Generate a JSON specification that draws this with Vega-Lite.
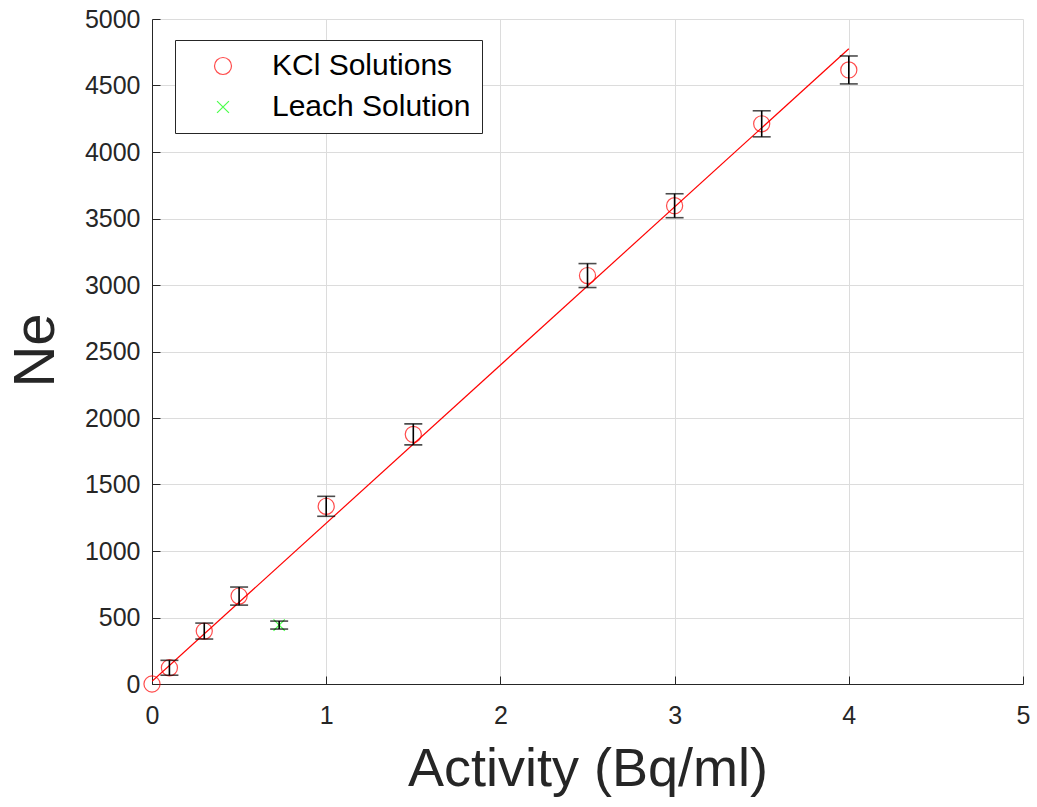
{
  "$schema": "https://vega.github.io/schema/vega-lite/v6.json",
  "autosize": {"type": "none"},
  "width": 871,
  "height": 665,
  "padding": {"left": 152, "top": 19, "right": 14, "bottom": 123},
  "background": "white",
  "config": {
    "font": "Liberation Sans",
    "view": {"stroke": null},
    "axis": {
      "domainColor": "#262626",
      "domainWidth": 1,
      "tickColor": "#262626",
      "tickSize": -8,
      "labelColor": "#262626",
      "labelFontSize": 25,
      "labelFont": "Liberation Sans",
      "labelFlush": false,
      "titleColor": "#262626",
      "titleFont": "Liberation Sans",
      "titleFontWeight": "normal",
      "gridColor": "#dcdcdc",
      "gridWidth": 1
    }
  },
  "datasets": {
    "fit": [
      {"activity": 0, "ne": 20},
      {"activity": 4, "ne": 4776}
    ],
    "measurements": [
      {"series": "KCl Solutions", "activity": 0, "ne": 0},
      {"series": "KCl Solutions", "activity": 0.1, "ne": 122, "lo": 66, "hi": 178},
      {"series": "KCl Solutions", "activity": 0.3, "ne": 398, "lo": 338, "hi": 458},
      {"series": "KCl Solutions", "activity": 0.5, "ne": 661, "lo": 593, "hi": 729},
      {"series": "KCl Solutions", "activity": 1, "ne": 1336, "lo": 1261, "hi": 1411},
      {"series": "KCl Solutions", "activity": 1.5, "ne": 1877, "lo": 1798, "hi": 1956},
      {"series": "KCl Solutions", "activity": 2.5, "ne": 3071, "lo": 2981, "hi": 3161},
      {"series": "KCl Solutions", "activity": 3, "ne": 3596, "lo": 3506, "hi": 3686},
      {"series": "KCl Solutions", "activity": 3.5, "ne": 4212, "lo": 4114, "hi": 4310},
      {"series": "KCl Solutions", "activity": 4, "ne": 4617, "lo": 4512, "hi": 4722},
      {"series": "Leach Solution", "activity": 0.73, "ne": 443, "lo": 413, "hi": 473}
    ]
  },
  "layer": [
    {
      "data": {"name": "fit"},
      "mark": {"type": "line", "color": "#ff0000", "strokeWidth": 1.2, "clip": true},
      "encoding": {
        "x": {
          "field": "activity",
          "type": "quantitative",
          "scale": {"domain": [0, 5], "nice": false},
          "axis": {
            "values": [0, 1, 2, 3, 4, 5],
            "format": "d",
            "grid": true,
            "labelPadding": 27,
            "title": "Activity (Bq/ml)",
            "titleFontSize": 54,
            "titleBaseline": "alphabetic",
            "titleY": 101
          }
        },
        "y": {
          "field": "ne",
          "type": "quantitative",
          "scale": {"domain": [0, 5000], "nice": false},
          "axis": {
            "values": [0, 500, 1000, 1500, 2000, 2500, 3000, 3500, 4000, 4500, 5000],
            "format": "d",
            "grid": true,
            "labelPadding": 20,
            "title": "Ne",
            "titleFontSize": 58,
            "titleAngle": -90,
            "titleAlign": "center",
            "titleBaseline": "middle",
            "titleX": -116,
            "titleY": 331
          }
        }
      }
    },
    {
      "data": {"name": "measurements"},
      "mark": {"type": "point", "filled": false, "size": 260, "strokeWidth": 1.2, "clip": false},
      "encoding": {
        "x": {"field": "activity", "type": "quantitative"},
        "y": {"field": "ne", "type": "quantitative"},
        "stroke": {
          "field": "series",
          "type": "nominal",
          "scale": {"domain": ["KCl Solutions", "Leach Solution"], "range": ["#ff0000", "#00ff00"]},
          "legend": {
            "title": null,
            "orient": "none",
            "legendX": 23,
            "legendY": 21,
            "fillColor": "white",
            "strokeColor": "#262626",
            "padding": 11,
            "rowPadding": 11,
            "labelFontSize": 30,
            "labelLimit": 0,
            "labelExpr": "datum.label + '    '",
            "labelColor": "#000000",
            "labelFont": "Liberation Sans",
            "labelOffset": 34,
            "symbolOffset": 22,
            "symbolSize": 289,
            "symbolStrokeWidth": 1.2,
            "symbolFillColor": "transparent"
          }
        },
        "shape": {
          "field": "series",
          "type": "nominal",
          "scale": {
            "domain": ["KCl Solutions", "Leach Solution"],
            "range": ["circle", "M-0.7,-0.7L0.7,0.7M0.7,-0.7L-0.7,0.7"]
          }
        }
      }
    },
    {
      "data": {"name": "measurements"},
      "transform": [{"filter": {"field": "lo", "valid": true}}],
      "mark": {"type": "rule", "color": "#000000", "strokeWidth": 1.6},
      "encoding": {
        "x": {"field": "activity", "type": "quantitative"},
        "y": {"field": "lo", "type": "quantitative"},
        "y2": {"field": "hi"}
      }
    },
    {
      "data": {"name": "measurements"},
      "transform": [{"filter": {"field": "lo", "valid": true}}],
      "mark": {"type": "tick", "orient": "horizontal", "color": "#000000", "size": 18, "thickness": 1.6},
      "encoding": {
        "x": {"field": "activity", "type": "quantitative"},
        "y": {"field": "lo", "type": "quantitative"}
      }
    },
    {
      "data": {"name": "measurements"},
      "transform": [{"filter": {"field": "lo", "valid": true}}],
      "mark": {"type": "tick", "orient": "horizontal", "color": "#000000", "size": 18, "thickness": 1.6},
      "encoding": {
        "x": {"field": "activity", "type": "quantitative"},
        "y": {"field": "hi", "type": "quantitative"}
      }
    }
  ]
}
